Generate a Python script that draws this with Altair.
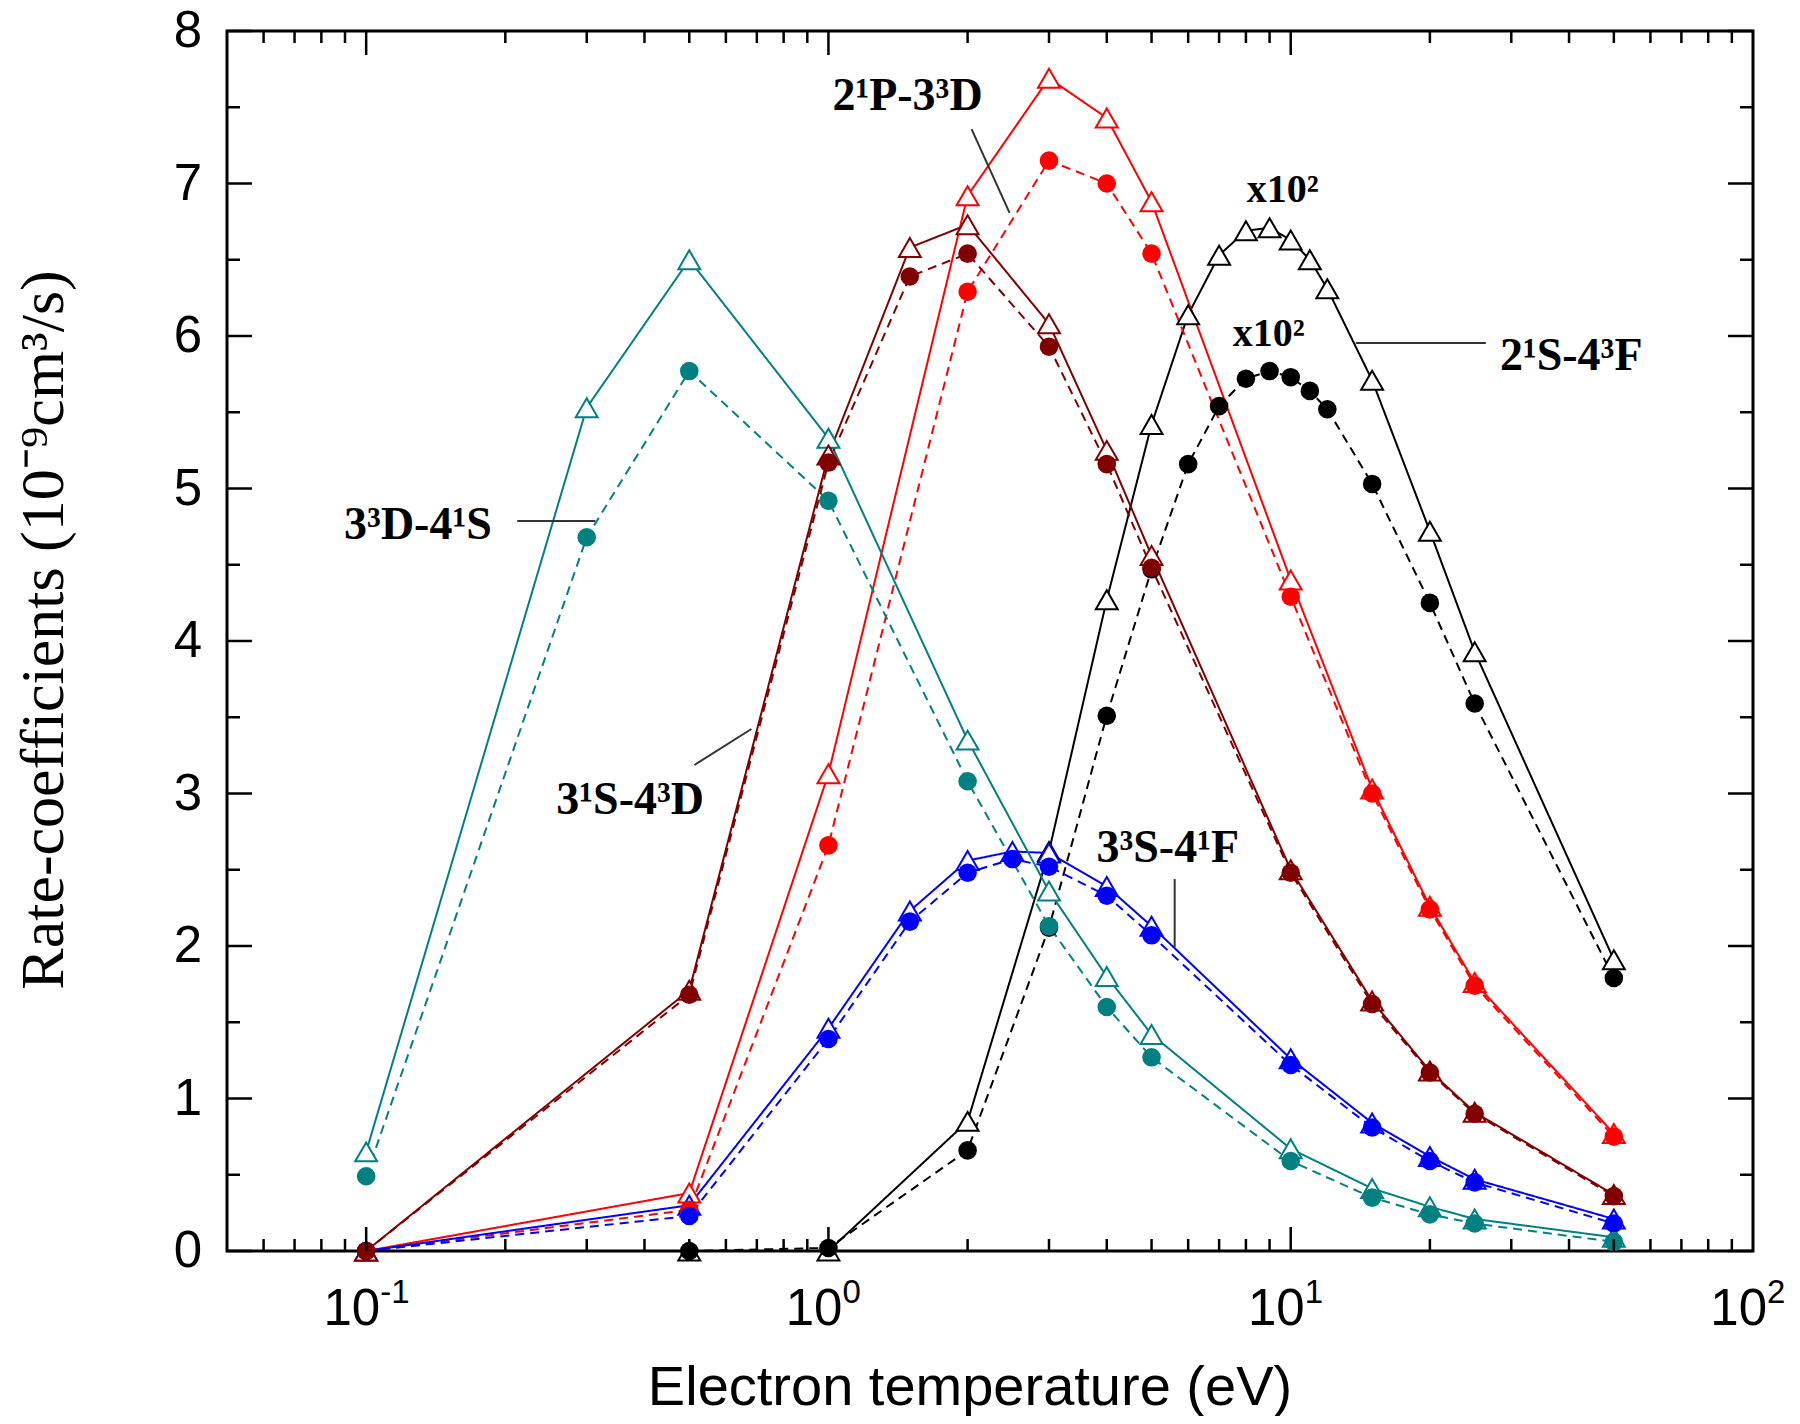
import altair as alt
import pandas as pd

# ---------------- data ----------------
SERIES = ["black", "red", "blue", "teal", "darkred"]
COLORS = ["#000000", "#FF0000", "#0000FF", "#008080", "#800000"]

T_BLACK = [0.5, 1, 2, 3, 4, 5, 6, 7, 8, 9, 10, 11, 12, 15, 20, 25, 50]
BLACK_TRI = [0.0, 0.0, 0.85, 2.62, 4.27, 5.42, 6.14, 6.53, 6.69, 6.71, 6.63, 6.50, 6.31, 5.71, 4.72, 3.93, 1.91]
BLACK_CIRC = [0.0, 0.02, 0.66, 2.12, 3.51, 4.47, 5.16, 5.54, 5.72, 5.77, 5.73, 5.64, 5.52, 5.03, 4.25, 3.59, 1.79]

T_RED = [0.1, 0.5, 1, 2, 3, 4, 5, 10, 15, 20, 25, 50]
RED_TRI = [0.0, 0.38, 3.13, 6.92, 7.69, 7.43, 6.88, 4.40, 3.03, 2.26, 1.76, 0.77]
RED_CIRC = [0.0, 0.27, 2.66, 6.29, 7.15, 7.00, 6.54, 4.29, 3.00, 2.24, 1.74, 0.75]

T_BLUE = [0.1, 0.5, 1, 1.5, 2, 2.5, 3, 4, 5, 10, 15, 20, 25, 50]
BLUE_TRI = [0.0, 0.30, 1.46, 2.23, 2.56, 2.62, 2.61, 2.39, 2.13, 1.26, 0.84, 0.62, 0.47, 0.21]
BLUE_CIRC = [0.0, 0.23, 1.39, 2.16, 2.48, 2.57, 2.52, 2.33, 2.07, 1.22, 0.81, 0.59, 0.45, 0.18]

T_TEAL = [0.1, 0.3, 0.5, 1, 2, 3, 4, 5, 10, 15, 20, 25, 50]
TEAL_TRI = [0.65, 5.53, 6.50, 5.33, 3.35, 2.36, 1.80, 1.42, 0.67, 0.41, 0.29, 0.21, 0.09]
TEAL_CIRC = [0.49, 4.68, 5.77, 4.92, 3.08, 2.13, 1.60, 1.27, 0.59, 0.35, 0.24, 0.18, 0.06]

T_DARKRED = [0.1, 0.5, 1, 1.5, 2, 3, 4, 5, 10, 15, 20, 25, 50]
DARKRED_TRI = [0.0, 1.71, 5.22, 6.58, 6.73, 6.08, 5.25, 4.56, 2.50, 1.64, 1.18, 0.91, 0.37]
DARKRED_CIRC = [0.0, 1.68, 5.17, 6.39, 6.54, 5.93, 5.16, 4.48, 2.48, 1.62, 1.17, 0.90, 0.36]

# axis ticks / labels
X_MAJOR = [0.1, 1, 10]
X_MINOR = [0.06, 0.07, 0.08, 0.09, 0.2, 0.3, 0.4, 0.5, 0.6, 0.7, 0.8, 0.9,
           2, 3, 4, 5, 6, 7, 8, 9, 20, 30, 40, 50, 60, 70, 80, 90]
X_LABEL_POS = [0.1, 1, 10, 100]
X_LABEL_BASE = ["10", "10", "10", "10"]
X_LABEL_SUP = ["-1", "0", "1", "2"]
Y_MAJOR = [0, 1, 2, 3, 4, 5, 6, 7, 8]
Y_MINOR = [0.5, 1.5, 2.5, 3.5, 4.5, 5.5, 6.5, 7.5]

# annotations
ANN_TEXT = ["2¹P-3³D", "2¹S-4³F", "3³D-4¹S", "3¹S-4³D", "3³S-4¹F"]
ANN_X = [1.02, 28.35, 0.0896, 0.2578, 3.80]
ANN_Y = [7.48, 5.777, 4.669, 2.866, 2.551]
MUL_TEXT = ["x10²", "x10²"]
MUL_X = [8.03, 7.49]
MUL_Y = [6.879, 5.934]
LEAD_X1 = [2.04, 13.83, 0.2122, 0.5129, 5.61]
LEAD_X2 = [2.465, 26.43, 0.3131, 0.6813, 5.61]
LEAD_Y1 = [7.357, 5.954, 4.787, 3.187, 2.439]
LEAD_Y2 = [6.807, 5.954, 4.787, 3.423, 1.993]

# ---------------- build tables ----------------
W, H = 1526, 1220
xs = alt.Scale(type="log", domain=[0.05, 100], nice=False)
ys = alt.Scale(domain=[0, 8], nice=False, zero=False)

groups = [
    ("black", T_BLACK, BLACK_TRI, BLACK_CIRC),
    ("red", T_RED, RED_TRI, RED_CIRC),
    ("blue", T_BLUE, BLUE_TRI, BLUE_CIRC),
    ("teal", T_TEAL, TEAL_TRI, TEAL_CIRC),
    ("darkred", T_DARKRED, DARKRED_TRI, DARKRED_CIRC),
]
rows = []
for name, t, tri, circ in groups:
    for xv, yv in zip(t, tri):
        rows.append({"series": name, "kind": "calc", "x": xv, "y": yv})
    for xv, yv in zip(t, circ):
        rows.append({"series": name, "kind": "fit", "x": xv, "y": yv})
df = pd.DataFrame(rows)

X = alt.X("x:Q", scale=xs, axis=None)
Y = alt.Y("y:Q", scale=ys, axis=None)
cscale = alt.Scale(domain=SERIES, range=COLORS)

lines = alt.Chart(df).mark_line(strokeWidth=2).encode(
    x=X, y=Y,
    color=alt.Color("series:N", scale=cscale, legend=None),
    strokeDash=alt.StrokeDash("kind:N", scale=alt.Scale(domain=["calc", "fit"], range=[[1, 0], [9, 6]]), legend=None),
    detail="kind:N",
    order="x:Q",
)

tris = alt.Chart(df).transform_filter(alt.datum.kind == "calc").mark_point(
    shape="triangle-up", size=480, filled=True, fill="white", strokeWidth=2, opacity=1
).encode(x=X, y=Y, stroke=alt.Stroke("series:N", scale=cscale, legend=None))

circs = alt.Chart(df).transform_filter(alt.datum.kind == "fit").mark_circle(
    size=345, opacity=1
).encode(x=X, y=Y, color=alt.Color("series:N", scale=cscale, legend=None))

# ---------------- ticks (inward, on all four sides) ----------------
def xticks(vals, length):
    d = pd.DataFrame({"v": vals})
    base = alt.Chart(d).mark_rule(color="black", strokeWidth=2.5)
    bottom = base.encode(x=alt.X("v:Q", scale=xs, axis=None), y=alt.value(H), y2=alt.value(H - length))
    top = base.encode(x=alt.X("v:Q", scale=xs, axis=None), y=alt.value(0), y2=alt.value(length))
    return [bottom, top]

def yticks(vals, length):
    d = pd.DataFrame({"v": vals})
    base = alt.Chart(d).mark_rule(color="black", strokeWidth=2.5)
    left = base.encode(y=alt.Y("v:Q", scale=ys, axis=None), x=alt.value(0), x2=alt.value(length))
    right = base.encode(y=alt.Y("v:Q", scale=ys, axis=None), x=alt.value(W), x2=alt.value(W - length))
    return [left, right]

tick_layers = xticks(X_MAJOR, 24) + xticks(X_MINOR, 12) + yticks(Y_MAJOR, 25) + yticks(Y_MINOR, 13)

# ---------------- tick labels ----------------
ylab = alt.Chart(pd.DataFrame({"v": Y_MAJOR})).mark_text(
    align="right", baseline="middle", font="Liberation Sans", fontSize=51, dx=-25, dy=1
).encode(y=alt.Y("v:Q", scale=ys, axis=None), x=alt.value(0), text=alt.Text("v:Q", format="d"))

xl = pd.DataFrame({"v": X_LABEL_POS, "b": X_LABEL_BASE, "s": X_LABEL_SUP})
xlab_base = alt.Chart(xl).mark_text(
    align="right", baseline="alphabetic", font="Liberation Sans", fontSize=51, dx=14
).encode(x=alt.X("v:Q", scale=xs, axis=None), y=alt.value(H + 74), text="b:N")
xlab_sup = alt.Chart(xl).mark_text(
    align="left", baseline="alphabetic", font="Liberation Sans", fontSize=33, dx=14
).encode(x=alt.X("v:Q", scale=xs, axis=None), y=alt.value(H + 52), text="s:N")

one = pd.DataFrame({"a": [0]})
xtitle = alt.Chart(one).mark_text(
    text="Electron temperature (eV)", align="center", baseline="alphabetic",
    font="Liberation Sans", fontSize=56
).encode(x=alt.value(743), y=alt.value(1374))
ytitle = alt.Chart(one).mark_text(
    text="Rate-coefficients (10⁻⁹cm³/s)", align="center", baseline="alphabetic",
    font="Liberation Serif", fontSize=62, angle=270
).encode(x=alt.value(-164), y=alt.value(599))

# ---------------- annotations ----------------
ann = alt.Chart(pd.DataFrame({"t": ANN_TEXT, "x": ANN_X, "y": ANN_Y})).mark_text(
    align="left", baseline="alphabetic", font="Liberation Serif", fontWeight="bold", fontSize=46
).encode(x=alt.X("x:Q", scale=xs, axis=None), y=alt.Y("y:Q", scale=ys, axis=None), text="t:N")
mul = alt.Chart(pd.DataFrame({"t": MUL_TEXT, "x": MUL_X, "y": MUL_Y})).mark_text(
    align="left", baseline="alphabetic", font="Liberation Serif", fontWeight="bold", fontSize=40
).encode(x=alt.X("x:Q", scale=xs, axis=None), y=alt.Y("y:Q", scale=ys, axis=None), text="t:N")
leads = alt.Chart(pd.DataFrame({"x1": LEAD_X1, "x2": LEAD_X2, "y1": LEAD_Y1, "y2": LEAD_Y2})).mark_rule(
    color="#333333", strokeWidth=2
).encode(
    x=alt.X("x1:Q", scale=xs, axis=None), x2="x2:Q",
    y=alt.Y("y1:Q", scale=ys, axis=None), y2="y2:Q",
)

chart = alt.layer(
    lines, tris, circs, *tick_layers, ylab, xlab_base, xlab_sup, xtitle, ytitle, ann, mul, leads
).properties(
    width=W, height=H,
    padding={"left": 219, "top": 23, "right": 39, "bottom": 165},
    autosize=alt.AutoSizeParams(type="none"),
).configure_view(stroke="black", strokeWidth=3)

chart.save("out.html", embed_options={"renderer": "svg", "actions": False})
